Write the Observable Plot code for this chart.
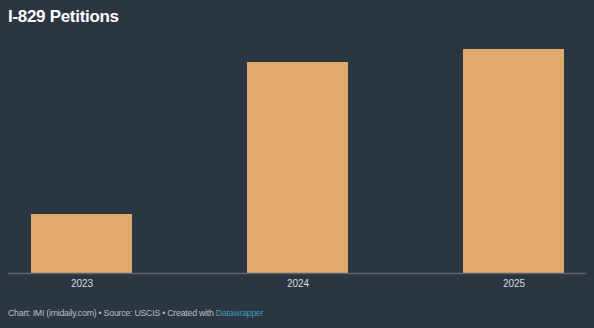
<!DOCTYPE html>
<html>
<head>
<meta charset="utf-8">
<script src="https://cdn.jsdelivr.net/npm/d3@7"></script>
<script src="https://cdn.jsdelivr.net/npm/@observablehq/plot@0.6"></script>
<style>
  html, body { margin: 0; padding: 0; background: #2c3542; width: 594px; height: 328px; overflow: hidden; }
  body { position: relative; font-family: "Liberation Sans", Arial, Helvetica, sans-serif; }
  #title { position: absolute; left: 8px; top: 6px; font-size: 17px; letter-spacing: -0.3px; font-weight: bold; color: #ffffff; line-height: 22px; }
  #chart { position: absolute; left: 0; top: 40px; }
  #footer { position: absolute; left: 8px; top: 306px; font-size: 8.8px; letter-spacing: -0.25px; color: #b9bec6; line-height: 14px; white-space: nowrap; }
  #footer a { color: #3a9bb8; text-decoration: none; }
</style>
</head>
<body>
<div id="title">I-829 Petitions</div>
<div id="chart"></div>
<div id="footer">Chart: IMI (imidaily.com) • Source: USCIS • Created with <a>Datawrapper</a></div>
<script>
const years = ["2023", "2024", "2025"];
const petitions = [590, 2110, 2240];

const data = years.map((year, i) => ({ year, value: petitions[i] }));

const chart = Plot.plot({
  width: 594,
  height: 260,
  marginTop: 9,
  marginBottom: 27,
  marginLeft: 8,
  marginRight: 8,
  style: { background: "transparent", fontFamily: "Liberation Sans, Arial, sans-serif", fontSize: "10px", color: "#d4d7dc" },
  x: { domain: years, paddingInner: 0.5335, paddingOuter: 0.1, label: null },
  y: { domain: [0, d3.max(petitions)], axis: null },
  marks: [
    Plot.barY(data, { x: "year", y: "value", fill: "#e0aa6d" }),
    Plot.ruleY([0], { stroke: "#5b6370", strokeWidth: 1.5 }),
    Plot.axisX({ tickSize: 0, tickPadding: 6, fill: "#d4d7dc", fontSize: 10, label: null })
  ]
});
document.getElementById("chart").appendChild(chart);
</script>
</body>
</html>
